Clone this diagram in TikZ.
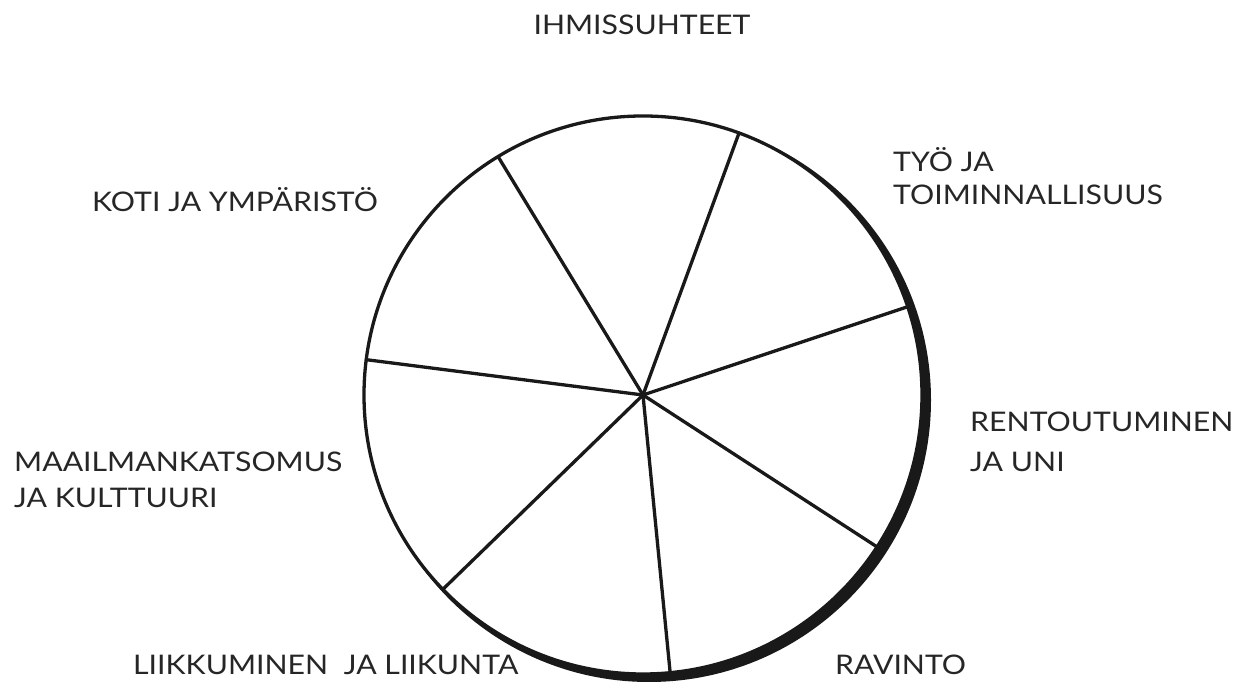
\documentclass[tikz,border=0pt]{standalone}
\usepackage{fontspec}
\setmainfont[FakeStretch=1.12]{Lato}
\usepackage{tikz}
\usetikzlibrary{positioning,calc}

\tikzset{
  lbl/.style={anchor=base west, inner sep=0pt, font=\fontsize{27}{31}\selectfont, text=black!85},
  spoke/.style={line width=3.3pt, black!90}
}

\begin{document}
\begin{tikzpicture}[x=1pt, y=1pt]
    \useasboundingbox (0,0) rectangle (1243,682);
    % wheel centre
    \coordinate (c) at (643,287);
    % shadow rim on the lower right
    \fill[black!90] ($(c)+(6,-5)$) circle (282);
    \fill[white] (c) circle (279);
    \draw[spoke] (c) circle (279);
    % seven spokes
    \foreach \i in {0,...,6} {
      \coordinate (s\i) at ($(c)+({121.3-\i*360/7}:279)$);
      \draw[spoke, line cap=round] (c) -- (s\i);
    }
    % labels
    \node[lbl, anchor=base] (ihm) at (642,647) {IHMISSUHTEET};
    \node[lbl] (tyo) at (893,510) {TYÖ JA};
    \node[lbl] (toim) at (893,477) {TOIMINNALLISUUS};
    \node[lbl] (koti) at (92,470) {KOTI JA YMPÄRISTÖ};
    \node[lbl] (rent) at (970,250) {RENTOUTUMINEN};
    \node[lbl] (uni) at (970,210) {JA UNI};
    \node[lbl] (maa) at (14,210) {MAAILMANKATSOMUS};
    \node[lbl] (kult) at (14,174) {JA KULTTUURI};
    \node[lbl] (liik) at (133,7) {LIIKKUMINEN\ \ JA LIIKUNTA};
    \node[lbl] (rav) at (835,7) {RAVINTO};
  \end{tikzpicture}
\end{document}
